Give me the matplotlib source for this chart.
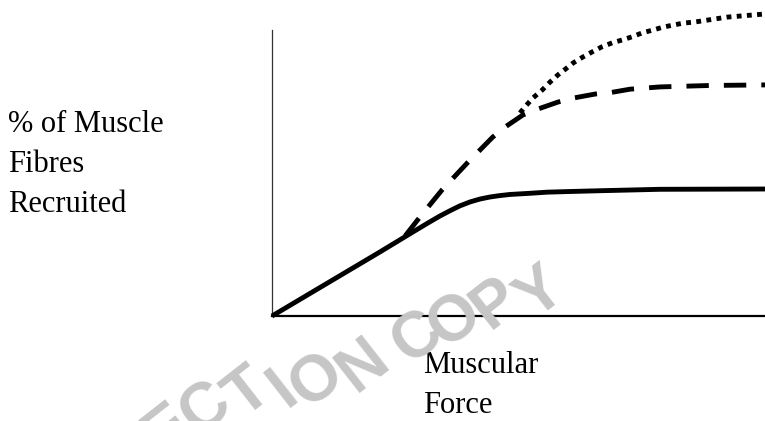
import matplotlib
matplotlib.use("Agg")
import matplotlib.pyplot as plt

# ---- data ----
solid_x = [0, 21.9, 28.6, 32.0, 34.1, 36.1, 38.1, 40.2, 42.2, 44.2, 46.2, 48.3, 52.3,
           55.8, 59.8, 66.5, 78.7, 100]
solid_y = [0, 22.4, 29.4, 32.9, 35.0, 36.8, 38.5, 39.9, 40.9, 41.6, 42.1, 42.5, 42.9,
           43.3, 43.5, 43.8, 44.3, 44.4]

dashed_x = [27.0, 30.0, 34.5, 39.6, 44.8, 47.3, 50.9, 54.0, 58.0, 61.1, 65.5, 68.6, 72.6, 78.7, 88.8, 100]
dashed_y = [28.0, 34.6, 44.1, 53.5, 62.6, 66.1, 70.3, 72.4, 74.8, 76.2, 77.6, 78.1, 79.3, 80.1, 80.6, 80.8]

dotted_x = [50.3, 51.3, 52.9, 54.8, 56.4, 58.0, 59.8, 61.1, 63.1, 64.9, 66.9, 69.0, 71.0,
            73.0, 75.1, 77.3, 79.3, 81.3, 83.4, 85.8, 92.3, 100]
dotted_y = [71.0, 73.1, 76.2, 79.0, 81.8, 84.3, 86.7, 88.5, 90.6, 92.3, 94.1, 95.5, 96.5,
            97.6, 99.0, 100.0, 101.0, 101.7, 102.4, 102.8, 104.5, 105.6]

ylabel_lines = ["% of Muscle", "Fibres", "Recruited"]
xlabel_lines = ["Muscular", "Force"]
watermark = "INSPECTION COPY"

W, H = 765, 421
fig = plt.figure(figsize=(W / 100, H / 100), dpi=100)
fig.patch.set_facecolor("white")

def fx(px):
    return px / W

def fy(py):
    return (H - py) / H

ax = fig.add_axes([fx(272), fy(316), fx(765) - fx(272), fy(5) - fy(316)])
ax.set_xlim(0, 100)
ax.set_ylim(0, (316 - 5) / 2.86)
ax.set_xticks([])
ax.set_yticks([])
for s in ["top", "right"]:
    ax.spines[s].set_visible(False)
ax.spines["left"].set_bounds(0, 100)
ax.spines["left"].set_linewidth(0.9)
ax.spines["left"].set_color("#333333")
ax.spines["bottom"].set_linewidth(1.6)
ax.spines["bottom"].set_color("black")
ax.patch.set_alpha(0)

lw = 3.5
ax.plot(solid_x, solid_y, color="black", lw=lw, solid_joinstyle="round",
        solid_capstyle="butt", clip_on=False, zorder=3)
ax.plot(dashed_x, dashed_y, color="black", lw=lw, dashes=(4.6, 3.1),
        dash_capstyle="butt", dash_joinstyle="round", clip_on=False, zorder=3)
ax.plot(dotted_x, dotted_y, color="black", lw=lw, dashes=(1, 1.1),
        dash_capstyle="butt", clip_on=False, zorder=3)

serif = ["Liberation Serif", "DejaVu Serif"]
for i, line in enumerate(ylabel_lines):
    fig.text(fx(8), fy(131.7 + 40 * i), line, fontsize=22, family=serif,
             ha="left", va="baseline")
for i, line in enumerate(xlabel_lines):
    fig.text(fx(423), fy(373 + 40 * i), line, fontsize=22, family=serif,
             ha="left", va="baseline")

# watermark letters (centres in pixel coordinates)
wm_pos = [(10, 520), (45, 505), (80, 490), (115, 475), (168, 430), (206, 409),
          (248, 394), (283, 389), (317, 381), (363, 365), (392, 350),
          (418, 338), (455, 321), (496, 304), (541, 293)]
for ch, (px, py) in zip(watermark, wm_pos):
    if ch == " ":
        continue
    fig.text(fx(px), fy(py), ch, fontsize=46, family=["Liberation Sans", "DejaVu Sans"],
             fontweight="bold", color="#c6c6c6", rotation=38,
             ha="center", va="center", rotation_mode="anchor", zorder=10)

fig.savefig("out.png", dpi=100, facecolor="white")
